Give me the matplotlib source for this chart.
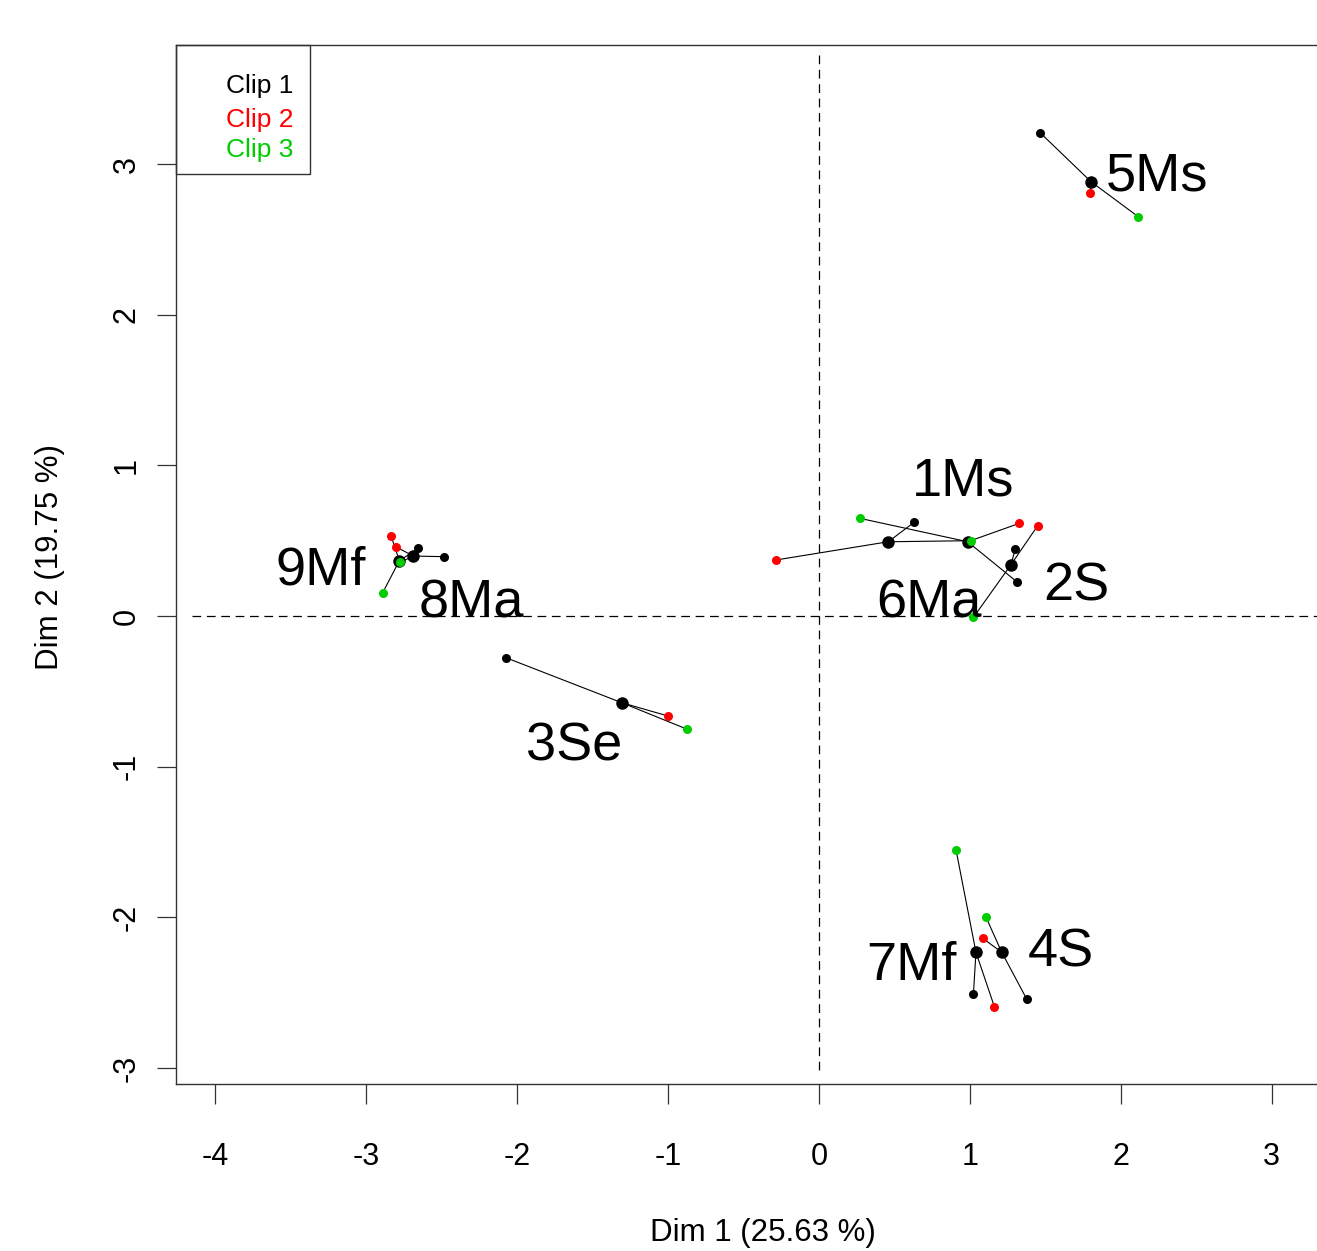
import matplotlib
matplotlib.use("Agg")
import matplotlib.pyplot as plt
import numpy as np

plt.rcParams['font.family'] = ['Liberation Sans', 'DejaVu Sans']
plt.rcParams['axes.unicode_minus'] = False

# individuals (mean points of the MFA)
names = ["6Ma", "1Ms", "2S", "5Ms", "3Se", "9Mf", "8Ma", "7Mf", "4S"]
mean_x = [0.459, 0.985, 1.270, 1.802, -1.308, -2.781, -2.688, 1.040, 1.211]
mean_y = [0.493, 0.493, 0.338, 2.883, -0.575, 0.367, 0.398, -2.232, -2.232]

# partial points, one per clip
clip1_x = [0.630, 1.310, 1.301, 1.465, -2.074, -2.655, -2.483, 1.023, 1.376]
clip1_y = [0.622, 0.228, 0.443, 3.208, -0.277, 0.449, 0.394, -2.511, -2.542]
clip2_x = [-0.285, 1.327, 1.449, 1.796, -0.999, -2.836, -2.805, 1.162, 1.085]
clip2_y = [0.372, 0.615, 0.599, 2.805, -0.664, 0.533, 0.460, -2.593, -2.139]
clip3_x = [1.005, 0.272, 1.023, 2.116, -0.877, -2.891, -2.777, 0.908, 1.107]
clip3_y = [0.500, 0.648, -0.009, 2.650, -0.750, 0.155, 0.356, -1.553, -2.000]

# label positions (baseline, centred)
lab_x = [0.729, 0.954, 1.703, 2.240, -1.624, -3.300, -2.306, 0.610, 1.604]
lab_y = [-0.007, 0.803, 0.100, 2.827, -0.962, 0.206, -0.007, -2.416, -2.329]

clip_names = ["Clip 1", "Clip 2", "Clip 3"]
clip_cols = ["black", "#FF0000", "#00CD00"]

W, H = 1317, 1251
fig = plt.figure(figsize=(W / 100, H / 100), dpi=100)
ax_l, ax_r, ax_t, ax_b = 176, 1330, 45, 1084
ax = fig.add_axes([ax_l / W, (H - ax_b) / H, (ax_r - ax_l) / W, (ax_b - ax_t) / H])
ax.set_xlim(-4.261, 3.386)
ax.set_ylim(-3.106, 3.790)

parts = [(clip1_x, clip1_y), (clip2_x, clip2_y), (clip3_x, clip3_y)]

for i in range(len(names)):
    for px, py in parts:
        ax.plot([mean_x[i], px[i]], [mean_y[i], py[i]], color='black', lw=0.8, zorder=3)

ax.plot(mean_x, mean_y, 'o', color='black', ms=9, zorder=4, mec='none')
for (px, py), col in zip(parts, clip_cols):
    ax.plot(px, py, 'o', color=col, ms=6.5, zorder=5, mec='none')

for i, n in enumerate(names):
    ax.text(lab_x[i], lab_y[i], n, fontsize=39, ha='center', va='baseline', zorder=6)

# reference lines
ax.plot([-4.155, 3.5], [0, 0], color='black', lw=0.9, dashes=(7, 4.5), zorder=1)
ax.plot([0, 0], [-3.013, 3.723], color='black', lw=0.9, dashes=(7, 4.5), zorder=1)

ax.spines['right'].set_visible(False)
for s in ['left', 'bottom', 'top']:
    ax.spines[s].set_linewidth(1.0)
    ax.spines[s].set_color('#333333')

ax.set_xticks(np.arange(-4, 4))
ax.set_yticks(np.arange(-3, 4))
ax.tick_params(axis='x', length=14.4, width=0.9, pad=27.5, labelsize=22, color='#333333')
ax.tick_params(axis='y', length=14, width=0.9, pad=10.5, labelsize=22, labelrotation=90, color='#333333')
for t in ax.get_yticklabels():
    t.set_va('center')

ax.set_xlabel("Dim 1 (25.63 %)", fontsize=22.5)
ax.set_ylabel("Dim 2 (19.75 %)", fontsize=22.5)
ax.xaxis.label.set_va('center')
ax.yaxis.label.set_va('center')
ax.xaxis.set_label_coords((763 - ax_l) / (ax_r - ax_l), (ax_b - 1233) / (ax_b - ax_t))
ax.yaxis.set_label_coords((50 - ax_l) / (ax_r - ax_l), (ax_b - 557) / (ax_b - ax_t))

# legend box
aw, ah = ax_r - ax_l, ax_b - ax_t
ax.add_patch(plt.Rectangle((0, (ax_b - 174) / ah), 134 / aw, (174 - ax_t) / ah,
                           transform=ax.transAxes, fill=False, ec='#333333', lw=1.0,
                           clip_on=False, zorder=7))
for n, col, yy in zip(clip_names, clip_cols, [83, 117, 148]):
    ax.text((293 - ax_l) / aw, (ax_b - yy) / ah, n, color=col, fontsize=19,
            ha='right', va='center_baseline', transform=ax.transAxes, zorder=8)

fig.savefig("out.png", dpi=100)
